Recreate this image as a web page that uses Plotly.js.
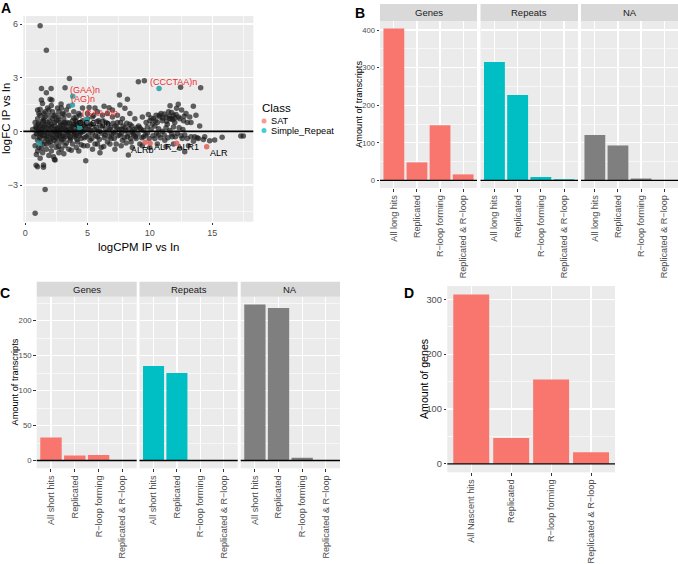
<!DOCTYPE html>
<html><head><meta charset="utf-8">
<script src="https://cdn.plot.ly/plotly-3.0.1.min.js"></script>
<style>html,body{margin:0;padding:0;background:#fff}#chart{width:678px;height:564px}</style>
</head><body><div id="chart"></div>
<script>
// ---------- DATA ----------
// Panel A: other (unclassified) transcripts, [logCPM, logFC]
const ptsOutliers = [[1.2,5.9],[1.7,4.54],[3.55,2.96],[1.31,2.4],[2.08,2.4],[3.2,2.44],[1.7,2.16],[1.3,1.75],[2.14,1.75],[2.88,1.53],
 [7.56,2.03],[8.2,1.79],[7.6,1.47],[8.0,1.29],[6.33,1.41],[6.73,1.32],[5.13,1.34],[1.39,1.56],[1.2,1.23],
 [9.08,2.77],[9.56,2.83],[12.47,2.46],[14.08,2.44],[11.62,1.43],[12.28,1.51],[13.49,1.41],[12.15,1.29],[12.55,1.19],[11.16,0.97],[9.88,0.95],
 [0.88,-1.89],[0.99,-1.98],[1.47,-1.88],[1.47,-2.0],[1.6,-3.25],[0.8,-4.58],[4.86,-1.64],[2.27,-1.42],[2.35,-1.57],[2.4,-1.6],[8.28,-1.32],[12.8,-1.14],
 [14.3,-0.45],[14.8,-0.52],[15.2,-0.48],[15.8,-0.33],[17.3,-0.26],[17.5,-0.26]];
const ptsLow = [[0.6,0.1],[0.7,-0.3],[0.8,0.5],[0.8,-0.8],[0.9,0.2],[0.9,-0.1],[1.0,0.7],[1.0,-0.5],[1.0,1.2],[1.1,0.0],[1.1,-0.9],[1.1,0.4],
 [1.2,-0.3],[1.2,0.9],[1.3,-0.6],[1.3,0.1],[1.4,-1.2],[1.4,0.6],[1.4,-0.2],[1.5,0.3],[1.5,-0.7],[1.5,1.0],[0.9,-1.3],[1.2,-1.5],
 [1.6,0.8],[1.6,-0.4],[1.7,0.2],[1.7,-1.0],[1.8,0.5],[1.8,-0.1],[1.8,1.3],[1.9,-0.6],[1.9,0.9],[2.0,0.0],[2.0,1.79],[2.0,-0.3],
 [2.1,0.4],[2.1,-0.8],[2.2,0.7],[2.2,-0.2],[2.2,1.1],[2.3,0.1],[2.3,-0.5],[2.4,0.3],[2.4,0.9],[2.5,-0.1],[2.5,-0.9],[2.5,0.6],
 [2.6,0.2],[2.6,-0.4],[2.6,1.3],[2.7,0.0],[2.7,0.8],[2.7,-1.2],[2.8,-0.3],[2.8,0.5],[2.9,0.1],[2.9,-0.6],[3.0,1.0],[3.0,-0.1],[3.0,0.4],
 [0.85,0.25],[0.95,-0.15],[1.05,0.45],[1.15,-0.35],[1.25,0.3],[1.35,-0.05],[1.45,0.55],[1.55,-0.25],[1.65,0.4],[1.75,-0.45],[1.85,0.15],
 [1.95,0.6],[2.05,-0.55],[2.15,0.25],[2.25,-0.05],[2.35,0.5],[2.45,-0.35],[2.55,0.1],[2.65,0.65],[2.75,-0.15],[2.85,0.35],[2.95,-0.45],
 [1.0,0.15],[1.2,-0.1],[1.4,0.2],[1.6,0.0],[1.8,-0.25],[2.0,0.3],[2.2,-0.35],[2.4,0.0],[2.6,-0.2],[2.8,0.2],[3.0,-0.25],
 [1.1,1.0],[1.5,0.7],[1.9,1.2],[2.3,0.85],[2.7,1.1],[2.1,1.45],[1.6,1.1],[2.9,1.3],
 [1.3,-0.95],[1.7,-0.7],[2.1,-1.1],[2.5,-0.65],[2.9,-1.0],[1.9,-1.35],[2.7,-0.85],[1.0,-1.1]];
const ptsMid = [[3.1,-0.4],[3.1,0.7],[3.2,0.2],[3.2,-0.8],[3.3,0.0],[3.3,1.2],[3.4,-0.2],[3.4,0.5],[3.5,-1.0],[3.5,0.9],[3.6,0.1],[3.6,-0.5],
 [3.7,0.3],[3.7,-0.1],[3.8,0.6],[3.8,-0.7],[3.9,0.0],[3.9,1.1],[4.0,-0.3],[4.0,0.4],[4.1,0.8],[4.1,-0.2],[4.2,0.1],[4.2,-0.6],[4.3,0.5],
 [4.3,-1.1],[4.4,-0.1],[4.4,0.9],[4.5,0.2],[4.5,-0.4],[4.6,0.6],[4.6,1.3],[4.7,0.0],[4.7,-0.8],[4.8,0.3],[4.9,-0.3],[5.0,0.7],
 [3.05,0.15],[3.15,0.5],[3.25,-0.3],[3.35,0.25],[3.45,-0.05],[3.55,0.45],[3.65,-0.4],[3.75,0.05],[3.85,0.35],[3.95,-0.2],[4.05,0.6],
 [4.15,-0.45],[4.25,0.2],[4.35,-0.25],[4.45,0.45],[3.2,0.45],[3.4,0.05],[3.6,-0.3],[3.8,0.25],[4.0,-0.05],[4.2,0.35],[4.4,0.0],
 [3.1,0.95],[3.5,1.4],[3.9,0.75],[4.3,1.0],[3.3,-0.65],[3.7,-1.05],[4.1,-0.9],[3.1,-1.25],[4.5,-0.75],
 [4.55,-0.05],[4.65,0.35],[4.75,-0.35],[4.85,0.15],[4.95,0.5],[5.05,-0.2],[5.15,0.3],[5.25,0.05],[5.35,-0.4],[5.45,0.4],[5.55,0.1],
 [5.65,-0.25],[5.75,0.55],[5.85,0.0],[5.95,-0.45],[6.05,0.3],[6.15,-0.1],[6.25,0.6],[6.35,-0.35],[6.45,0.15],[6.55,-0.05],[6.65,0.4],
 [6.75,-0.3],[6.85,0.2],[6.95,-0.15],[7.05,0.45],[7.15,-0.4],[7.25,0.0],[7.35,0.25],[7.45,-0.25],[7.55,0.1],[7.65,0.5],[7.75,-0.1],
 [7.85,0.3],[7.95,-0.35],[8.05,0.05],[8.15,0.45],[8.25,-0.15],[8.35,0.15],[8.45,-0.4],[8.55,0.3],[8.65,-0.1],[8.75,0.1],[8.85,-0.3],[8.95,0.2],
 [5.1,0.1],[5.2,-0.5],[5.3,0.4],[5.4,-0.1],[5.5,0.9],[5.6,-0.7],[5.7,0.2],[5.8,-0.3],[5.9,0.6],[6.0,0.0],[6.1,-0.9],[6.2,0.3],[6.4,-0.2],
 [6.5,0.5],[6.6,-0.6],[6.8,0.1],[6.9,-0.4],[7.0,0.8],[7.1,-0.1],[7.2,0.3],[7.3,-0.7],[7.4,0.5],[7.6,-0.2],[7.7,0.1],[7.8,-0.5],[8.0,0.2],[8.2,-0.3],
 [5.0,1.0],[5.4,0.8],[5.8,1.1],[6.2,0.9],[6.6,1.0],[7.0,1.2],[7.4,0.9],[7.8,0.7],[8.4,1.0],[5.6,1.3],
 [5.0,-0.8],[5.4,-1.0],[5.8,-0.7],[6.3,-0.85],[6.8,-0.7],[7.2,-1.0],[7.7,-0.8],[8.1,-0.65],[8.6,-0.9],[6.0,-1.2]];
const ptsHigh = [[8.4,0.4],[8.5,-0.6],[8.6,0.0],[8.7,-0.2],[8.8,0.7],[8.9,-0.4],[9.1,0.3],[9.2,-0.7],[9.3,0.1],[9.4,0.8],[9.5,-0.3],
 [9.7,0.5],[9.8,-0.1],[10.0,0.6],[10.2,0.4],[10.3,0.7],[10.4,-0.4],[10.5,0.9],[10.6,0.5],[10.7,-0.2],[10.8,0.8],[10.9,1.0],[11.0,0.6],
 [11.2,-0.5],[11.3,0.8],[11.4,0.4],[11.5,1.1],[11.7,0.7],[11.8,-0.3],[11.9,0.9],[12.0,0.5],[12.3,0.8],[12.6,-0.4],[12.7,0.6],[12.9,1.0],
 [13.0,0.5],[13.2,0.8],[13.6,-0.3],
 [9.05,-0.15],[9.2,0.2],[9.35,-0.35],[9.5,0.05],[9.65,-0.2],[9.8,0.25],[9.95,-0.4],[10.1,0.1],[10.25,-0.25],[10.4,0.3],[10.55,-0.1],
 [10.7,0.15],[10.85,-0.35],[11.0,0.0],[11.15,-0.2],[11.3,0.2],[11.45,-0.35],[11.6,0.05],[11.75,-0.15],[11.9,0.25],[12.05,-0.3],[12.2,-0.1],
 [12.35,0.2],[12.5,-0.25],[12.65,0.1],[12.8,-0.2],[13.0,-0.4],[13.3,-0.3],[13.8,-0.35],
 [10.1,0.75],[10.45,0.6],[10.75,0.9],[11.05,0.75],[11.35,0.55],[11.55,0.85],[11.85,0.65],[12.1,0.95],[12.4,0.7],[12.75,0.85],[11.75,1.05],[12.0,0.75],[11.6,0.7],
 [9.4,-0.8],[10.0,-0.9],[10.6,-0.7],[11.3,-0.85],[11.9,-0.7],[12.4,-0.95],[13.1,-0.8],[13.5,-0.55],
 [13.3,0.5],[13.7,0.9],[14.0,0.3],[14.4,-0.3],[13.9,-0.4]];
// Panel A: classified repeats
const satCPM = [9.62,10.02,12.15,14.56];
const satFC  = [-0.61,-0.67,-0.67,-0.86];
const srCPM  = [3.82,3.79,4.94,4.35,10.74,1.12];
const srFC   = [1.97,1.47,0.67,0.22,2.4,-0.67];
// Panel A: text labels
const labelText = ["(GAA)n","(AG)n","(GAAA)n","(CCCTAA)n","(CCCA)n","(GGA)n","ALRb","ALR_ALR1","ALR"];
const labelCPM  = [3.45,3.53,4.41,9.88,3.74,-0.86,8.36,10.15,14.69];
const labelFC   = [2.31,1.79,1.04,2.74,0.48,-1.10,-1.045,-0.86,-1.23];
const labelRed  = [true,true,true,true,false,false,false,false,false];

// Panels B, C, D
const catsLong    = ["All long hits","Replicated","R\u2212loop forming","Replicated & R\u2212loop"];
const catsShort   = ["All short hits","Replicated","R\u2212loop forming","Replicated & R\u2212loop"];
const catsNascent = ["All Nascent hits","Replicated","R\u2212loop forming","Replicated & R\u2212loop"];
const facets = ["Genes","Repeats","NA"];
const longGenes = [404,48,147,16], longRepeats = [315,227,9,3], longNA = [121,93,5,1];
const shortGenes = [33,7,8,0], shortRepeats = [135,125,0,0], shortNA = [223,218,4,0];
const nascentGenes = [309,47,154,21];

// ---------- LAYOUT HELPERS ----------
const W=678, H=564;
const fx = p => p/W, fy = p => 1 - p/H;
const FONT = 'Liberation Sans, Arial, Helvetica, sans-serif';
const COLS = {Genes:'#F8766D', Repeats:'#00BFC4', NA:'#7F7F7F'};
const layout = {width:W, height:H, margin:{l:0,r:0,t:0,b:0}, paper_bgcolor:'#fff', plot_bgcolor:'#EBEBEB',
  showlegend:false, font:{family:FONT, color:'#000'}, shapes:[], annotations:[]};
const traces = [];

function xCat(dom, anchor, fs){
  return {domain:[fx(dom[0]),fx(dom[1])], anchor:anchor, type:'category', range:[-0.6,3.6], tickangle:-90,
    tickfont:{size:fs, color:'#4D4D4D', family:FONT}, ticks:'outside', ticklen:2.5, tickcolor:'#333', tickwidth:1,
    showgrid:true, gridcolor:'#fff', gridwidth:1.2, zeroline:false, showline:false, fixedrange:true};
}
function yLin(dom, anchor, range, dtick, labels, fs){
  return {domain:[fy(dom[1]),fy(dom[0])], anchor:anchor, range:range, tick0:0, dtick:dtick,
    showticklabels:labels, ticks:labels?'outside':'', ticklen:2.5, tickcolor:'#333', tickwidth:1,
    tickfont:{size:fs, color:'#4D4D4D', family:FONT},
    showgrid:true, gridcolor:'#fff', gridwidth:1.2, zeroline:false, showline:false,
    minor:{tick0:0, dtick:dtick/2, showgrid:true, gridcolor:'#fff', gridwidth:0.6, ticklen:0}, fixedrange:true};
}
let axN = 1;
function nextAx(){ axN++; return axN; }

// ---------- PANEL A ----------
layout.xaxis = {domain:[fx(23.3),fx(253.3)], anchor:'y', range:[-0.15,18.3], tick0:0, dtick:5,
  ticks:'outside', ticklen:2.5, tickcolor:'#333', tickfont:{size:9, color:'#4D4D4D', family:FONT},
  showgrid:true, gridcolor:'#fff', gridwidth:1.2, zeroline:false, showline:false,
  minor:{tick0:0, dtick:2.5, showgrid:true, gridcolor:'#fff', gridwidth:0.6, ticklen:0}, fixedrange:true};
layout.yaxis = {domain:[fy(221.7),fy(16)], anchor:'x', range:[-5.05,6.45], tick0:0, dtick:3,
  ticks:'outside', ticklen:2.5, tickcolor:'#333', tickfont:{size:9, color:'#4D4D4D', family:FONT},
  showgrid:true, gridcolor:'#fff', gridwidth:1.2, zeroline:false, showline:false,
  minor:{tick0:0, dtick:1.5, showgrid:true, gridcolor:'#fff', gridwidth:0.6, ticklen:0}, fixedrange:true};
const allPts = ptsOutliers.concat(ptsLow, ptsMid, ptsHigh);
traces.push({type:'scatter', mode:'markers', x:allPts.map(p=>p[0]), y:allPts.map(p=>p[1]), xaxis:'x', yaxis:'y',
  marker:{size:5.5, color:'rgba(25,25,25,0.68)', line:{width:0}}, hoverinfo:'skip'});
traces.push({type:'scatter', mode:'markers', x:satCPM, y:satFC, xaxis:'x', yaxis:'y', name:'SAT',
  marker:{size:5.5, color:'rgba(225,95,88,0.85)', line:{width:0}}, hoverinfo:'skip'});
traces.push({type:'scatter', mode:'markers', x:srCPM, y:srFC, xaxis:'x', yaxis:'y', name:'Simple_Repeat',
  marker:{size:5.5, color:'rgba(30,160,165,0.85)', line:{width:0}}, hoverinfo:'skip'});
layout.shapes.push({type:'line', xref:'x domain', x0:0, x1:1, yref:'y', y0:0, y1:0, line:{color:'#000', width:1.6}, layer:'above'});
labelText.forEach((t,i)=>layout.annotations.push({text:t, x:labelCPM[i], y:labelFC[i], xref:'x', yref:'y',
  xanchor:'left', yanchor:'middle', showarrow:false, font:{size:9, color:labelRed[i]?'#EE2B2B':'#000', family:FONT}}));
// axis titles
layout.annotations.push({text:'logFC IP vs In', x:fx(6), y:fy(119), xref:'paper', yref:'paper', textangle:-90,
  showarrow:false, font:{size:11.4, family:FONT}, xanchor:'center', yanchor:'middle'});
layout.annotations.push({text:'logCPM IP vs In', x:fx(138.3), y:fy(247), xref:'paper', yref:'paper',
  showarrow:false, font:{size:11.4, family:FONT}, xanchor:'center', yanchor:'middle'});
// legend
layout.annotations.push({text:'Class', x:fx(260.5), y:fy(108), xref:'paper', yref:'paper', showarrow:false, borderpad:0,
  xanchor:'left', yanchor:'middle', font:{size:11.5, family:FONT}});
[['SAT','rgba(248,118,109,0.75)',121],['Simple_Repeat','rgba(0,191,196,0.75)',130.5]].forEach(d=>{
  layout.shapes.push({type:'circle', xref:'paper', yref:'paper', x0:fx(261.5), x1:fx(266.5), y0:fy(d[2]+2.5), y1:fy(d[2]-2.5),
    fillcolor:d[1], line:{width:0}});
  layout.annotations.push({text:d[0], x:fx(269.5), y:fy(d[2]), xref:'paper', yref:'paper', showarrow:false, borderpad:0,
    xanchor:'left', yanchor:'middle', font:{size:9.2, family:FONT}});
});

// ---------- FACETTED BAR PANELS ----------
function facetPanel(xdoms, ydom, stripDom, cats, series, range, dtick, tfs, xfs){
  xdoms.forEach((xd,i)=>{
    const n = nextAx();
    layout['xaxis'+n] = xCat(xd, 'y'+n, xfs);
    layout['yaxis'+n] = yLin(ydom, 'x'+n, range, dtick, i===0, tfs);
    traces.push({type:'bar', x:cats, y:series[i], xaxis:'x'+n, yaxis:'y'+n, width:0.9,
      marker:{color:COLS[facets[i]], line:{width:0}}, hoverinfo:'skip'});
    layout.shapes.push({type:'line', xref:'x'+n+' domain', x0:0, x1:1, yref:'y'+n, y0:0, y1:0,
      line:{color:'#000', width:1.3}, layer:'above'});
    if (stripDom){
      layout.shapes.push({type:'rect', xref:'paper', yref:'paper', x0:fx(xd[0]), x1:fx(xd[1]),
        y0:fy(stripDom[1]), y1:fy(stripDom[0]), fillcolor:'#D9D9D9', line:{width:0}, layer:'below'});
      layout.annotations.push({text:facets[i], x:fx((xd[0]+xd[1])/2), y:fy((stripDom[0]+stripDom[1])/2),
        xref:'paper', yref:'paper', showarrow:false, xanchor:'center', yanchor:'middle',
        font:{size:9.5, color:'#1A1A1A', family:FONT}});
    }
  });
}
// Panel B
facetPanel([[380,477],[480.5,578],[581,678]], [21,188], [4,21], catsLong,
  [longGenes,longRepeats,longNA], [-20.2,424.2], 100, 7.6, 9.1);
layout.annotations.push({text:'Amount of transcripts', x:fx(358.3), y:fy(104.5), xref:'paper', yref:'paper', textangle:-90,
  showarrow:false, font:{size:9.2, family:FONT}, xanchor:'center', yanchor:'middle'});
// Panel C
facetPanel([[36.7,136.7],[139.5,237.7],[240.7,340]], [296.7,468.3], [281.7,296.7], catsShort,
  [shortGenes,shortRepeats,shortNA], [-11.15,234.15], 50, 7.8, 9.1);
layout.annotations.push({text:'Amount of transcripts', x:fx(14), y:fy(382.5), xref:'paper', yref:'paper', textangle:-90,
  showarrow:false, font:{size:9.2, family:FONT}, xanchor:'center', yanchor:'middle'});
// Panel D
{
  const n = nextAx();
  layout['xaxis'+n] = xCat([447.3,615], 'y'+n, 9.2);
  layout['yaxis'+n] = yLin([286,472.3], 'x'+n, [-15.45,324.45], 100, true, 9.3);
  traces.push({type:'bar', x:catsNascent, y:nascentGenes, xaxis:'x'+n, yaxis:'y'+n, width:0.9,
    marker:{color:COLS.Genes, line:{width:0}}, hoverinfo:'skip'});
  layout.shapes.push({type:'line', xref:'x'+n+' domain', x0:0, x1:1, yref:'y'+n, y0:0, y1:0,
    line:{color:'#000', width:1.3}, layer:'above'});
  layout.annotations.push({text:'Amount of genes', x:fx(424), y:fy(379), xref:'paper', yref:'paper', textangle:-90,
    showarrow:false, font:{size:10.6, family:FONT}, xanchor:'center', yanchor:'middle'});
}
// Panel letters
[['A',6,7.7],['B',360,12.8],['C',5,293],['D',409,292.5]].forEach(d=>layout.annotations.push({text:'<b>'+d[0]+'</b>',
  x:fx(d[1]), y:fy(d[2]), xref:'paper', yref:'paper', showarrow:false, xanchor:'center', yanchor:'middle',
  font:{size:14, family:FONT, color:'#000'}}));

Plotly.newPlot('chart', traces, layout, {staticPlot:true, displayModeBar:false});
</script></body></html>
